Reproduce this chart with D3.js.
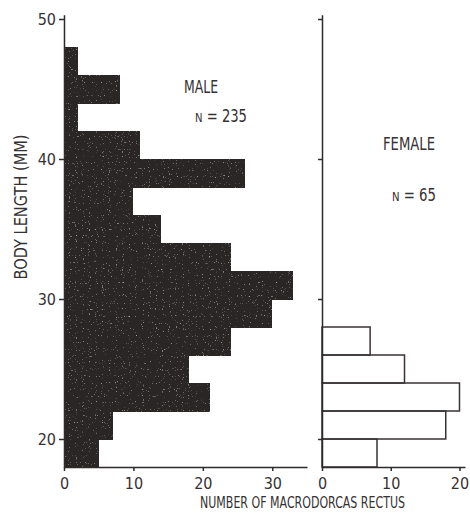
<!DOCTYPE html>
<html>
<head>
<meta charset="utf-8">
<script src="https://cdn.jsdelivr.net/npm/d3@7"></script>
<style>
  html, body { margin: 0; padding: 0; background: #fff; }
  svg text {
    font-family: "DejaVu Sans Condensed", "Liberation Sans Narrow", "DejaVu Sans", sans-serif;
    font-stretch: condensed;
    fill: #363132;
  }
  .axis path, .axis line { stroke: #2f2b2b; stroke-width: 1.5; }
  .axis text { font-size: 16px; }
</style>
</head>
<body>
<svg id="chart" width="470" height="515"></svg>
<script>
// body length bins (mm), each bin is 2 mm wide
var binStarts = [18, 20, 22, 24, 26, 28, 30, 32, 34, 36, 38, 40, 42, 44, 46];
var binWidth = 2;
var maleCounts = [5, 7, 21, 18, 24, 30, 33, 24, 14, 10, 26, 11, 2, 8, 2];
var femaleBins = [18, 20, 22, 24, 26];
var femaleCounts = [8, 18, 20, 12, 7];

var lengthTicks = [20, 30, 40, 50];
var maleTicks = [0, 10, 20, 30];
var femaleTicks = [0, 10, 20];

var svg = d3.select('#chart');

// speckle texture for the filled (male) bars
var defs = svg.append('defs');
var filt = defs.append('filter').attr('id', 'speck')
  .attr('x', 0).attr('y', 0).attr('width', 1).attr('height', 1);
filt.append('feTurbulence')
  .attr('type', 'fractalNoise').attr('baseFrequency', 0.85)
  .attr('numOctaves', 1).attr('seed', 4).attr('result', 'noise');
filt.append('feColorMatrix').attr('in', 'noise').attr('type', 'matrix')
  .attr('values', '0 0 0 0 1  0 0 0 0 1  0 0 0 0 1  2.2 0 0 0 -1.45')
  .attr('result', 'dots');
filt.append('feComposite').attr('in', 'dots').attr('in2', 'SourceGraphic')
  .attr('operator', 'in').attr('result', 'dotsIn');
var merge = filt.append('feMerge');
merge.append('feMergeNode').attr('in', 'SourceGraphic');
merge.append('feMergeNode').attr('in', 'dotsIn');

// shared vertical scale: 14 px per mm
var y = d3.scaleLinear().domain([18, 50.3]).range([467, 14.8]);

var xMale = d3.scaleLinear().domain([0, 35]).range([64, 307]);
var xFemale = d3.scaleLinear().domain([0, 20.8]).range([322, 465]);

var male = binStarts.map(function(b, i) { return { start: b, count: maleCounts[i] }; });
var female = femaleBins.map(function(b, i) { return { start: b, count: femaleCounts[i] }; });

// male bars (filled, merged silhouette)
svg.append('g')
  .attr('filter', 'url(#speck)')
  .selectAll('rect')
  .data(male)
  .enter()
  .append('rect')
  .attr('x', xMale(0))
  .attr('y', function(d) { return y(d.start + binWidth) - 0.5; })  // overlap a little to hide seams
  .attr('width', function(d) { return xMale(d.count) - xMale(0); })
  .attr('height', function(d) { return y(d.start) - y(d.start + binWidth) + 1; })
  .attr('fill', '#2c2527')
  .attr('shape-rendering', 'crispEdges');

// female bars (outlined)
svg.append('g')
  .selectAll('rect')
  .data(female)
  .enter()
  .append('rect')
  .attr('x', xFemale(0))
  .attr('y', function(d) { return y(d.start + binWidth); })
  .attr('width', function(d) { return xFemale(d.count) - xFemale(0); })
  .attr('height', function(d) { return y(d.start) - y(d.start + binWidth); })
  .attr('fill', 'none')
  .attr('stroke', '#3a3333')
  .attr('stroke-width', 1.5);

// axes
svg.append('g').attr('class', 'axis')
  .attr('transform', 'translate(' + xMale(0) + ',0)')
  .call(d3.axisLeft(y).tickValues(lengthTicks).tickSize(5).tickSizeOuter(0).tickPadding(3));

svg.append('g').attr('class', 'axis')
  .attr('transform', 'translate(' + xFemale(0) + ',0)')
  .call(d3.axisLeft(y).tickValues(lengthTicks).tickSize(4).tickSizeOuter(0).tickFormat(''));

svg.append('g').attr('class', 'axis')
  .attr('transform', 'translate(0,' + y(18) + ')')
  .call(d3.axisBottom(xMale).tickValues(maleTicks).tickSize(4).tickSizeOuter(0).tickPadding(7));

svg.append('g').attr('class', 'axis')
  .attr('transform', 'translate(0,' + y(18) + ')')
  .call(d3.axisBottom(xFemale).tickValues(femaleTicks).tickSize(4).tickSizeOuter(0).tickPadding(7));

// labels
function label(txt, x, yPos, size, len) {
  return svg.append('text')
    .attr('x', x).attr('y', yPos)
    .attr('font-size', size)
    .attr('textLength', len).attr('lengthAdjust', 'spacingAndGlyphs')
    .text(txt);
}

label('MALE', 184, 93, 18, 34);
var nm = svg.append('text').attr('x', 195).attr('y', 122)
  .attr('textLength', 52).attr('lengthAdjust', 'spacingAndGlyphs');
nm.append('tspan').attr('font-size', 13).text('N');
nm.append('tspan').attr('font-size', 17).text(' = 235');

label('FEMALE', 383, 150, 18, 52);
var nf = svg.append('text').attr('x', 392).attr('y', 201)
  .attr('textLength', 44).attr('lengthAdjust', 'spacingAndGlyphs');
nf.append('tspan').attr('font-size', 13).text('N');
nf.append('tspan').attr('font-size', 17).text(' = 65');

label('NUMBER OF MACRODORCAS RECTUS', 200, 508, 16, 205);

svg.append('text')
  .attr('transform', 'translate(27,207) rotate(-90)')
  .attr('text-anchor', 'middle')
  .attr('font-size', 17)
  .attr('textLength', 145).attr('lengthAdjust', 'spacingAndGlyphs')
  .text('BODY LENGTH (MM)');
</script>
</body>
</html>
